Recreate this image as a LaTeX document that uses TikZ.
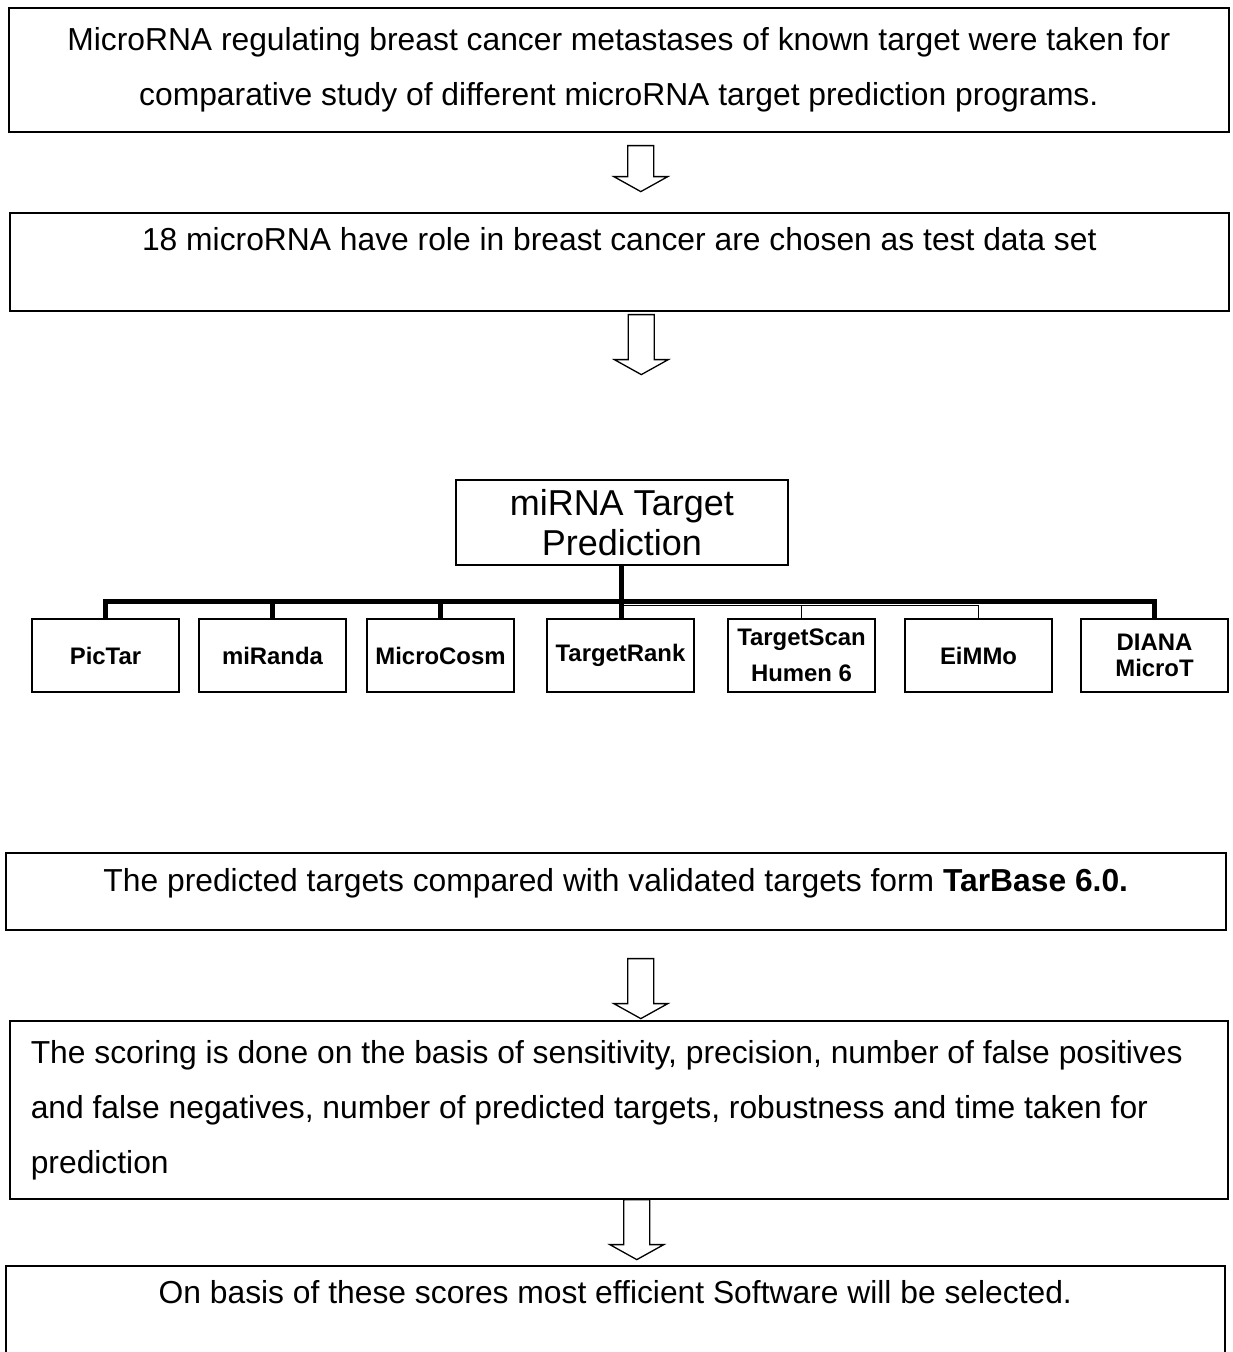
\documentclass[tikz,border=0pt]{standalone}
\usepackage{fontspec}
\setmainfont{Liberation Sans}
\usetikzlibrary{positioning, calc}
\newcommand\bodysize{\fontsize{31.8}{55}\selectfont}
\newcommand\headsize{\fontsize{36}{40}\selectfont}
\newcommand\toolsize{\fontsize{23.9}{36}\selectfont}
% hollow block arrow: start coordinate, length
\newcommand\blockarrow[2]{%
  \draw [hollow] ($(#1)+(-13,0)$) -- ++(0,#2-15) -- ++(-14,0) -- ++(27,15)
    -- ++(27,-15) -- ++(-14,0) -- ++(0,15-#2) -- cycle;}

\begin{document}
\begin{tikzpicture}[x=1pt, y=-1pt]
        \tikzstyle{block} = [rectangle, draw, line width=1.6pt, align=center, inner sep=0pt, anchor=north west, font=\bodysize]
        \tikzstyle{tool} = [rectangle, draw, line width=1.6pt, align=center, inner sep=0pt, outer sep=0pt, minimum width=147pt, minimum height=73pt, font=\toolsize\bfseries]
        \tikzstyle{bus} = [line width=5pt, line join=miter]
        \tikzstyle{wire} = [line width=1pt]
        \tikzstyle{hollow} = [draw, line width=1.3pt, fill=white, line join=miter]
        \useasboundingbox (0,0) rectangle (1233,1352);

        \node (intro) at (8,7) [block, minimum width=1220pt, minimum height=124pt] {MicroRNA regulating breast cancer metastases of known target were taken for\\ comparative study of different microRNA target prediction programs.};
        \node (scope) at (9,212) [block, minimum width=1219pt, text height=38pt, text depth=60pt] {18 microRNA have role in breast cancer are chosen as test data set};
        \node (pred) at (455,479) [block, font=\headsize, minimum width=332pt, minimum height=85pt] {miRNA Target\\Prediction};

        \node (pictar) at (32,619) [tool, anchor=north west] {PicTar};
        \node [right=20pt of pictar] (miranda) [tool] {miRanda};
        \node [right=21pt of miranda] (mcosm) [tool] {MicroCosm};
        \node [right=33pt of mcosm] (trank) [tool] {TargetRank};
        \node [right=34pt of trank] (tscan) [tool] {TargetScan\\Humen 6};
        \node [right=30pt of tscan] (eimmo) [tool] {EiMMo};
        \node [right=29pt of eimmo] (diana) [tool] {DIANA\\[-10pt]MicroT};

        \node (compare) at (5,852) [block, minimum width=1220pt, text height=39pt, text depth=38pt] {The predicted targets compared with validated targets form \textbf{TarBase 6.0.}};
        \node (score) at (9,1020) [block, align=flush left, text width=1176pt, inner xsep=21pt, minimum height=178pt] {The scoring is done on the basis of sensitivity, precision, number of false positives\\ and false negatives, number of predicted targets, robustness and time taken for\\ prediction};
        \node (select) at (5,1265) [block, minimum width=1219pt, text height=38pt, text depth=57pt] {On basis of these scores most efficient Software will be selected.};

        % tree
        \coordinate (busy) at (0,601);
        \coordinate (wirey) at (0,605);
        \draw [bus] (pred.south) -- (pred.south |- trank.north);
        \draw [bus] (pictar.north) -- (pictar.north |- busy) -- (diana.north |- busy) -- (diana.north);
        \draw [bus] (miranda.north) -- (miranda.north |- busy);
        \draw [bus] (mcosm.north) -- (mcosm.north |- busy);
        \draw [wire] (pred.south |- wirey) -- (eimmo.north |- wirey) -- (eimmo.north);
        \draw [wire] (tscan.north) -- (tscan.north |- wirey);

        % block arrows
        \coordinate (arr1) at ($(intro.south)+(22,13)$);
        \coordinate (arr2) at ($(scope.south)+(22,3)$);
        \coordinate (arr3) at ($(compare.south)+(25,28)$);
        \coordinate (arr4) at ($(score.south)+(18,0)$);
        \blockarrow{arr1}{46}
        \blockarrow{arr2}{60}
        \blockarrow{arr3}{60}
        \blockarrow{arr4}{60}
\end{tikzpicture}
\end{document}
